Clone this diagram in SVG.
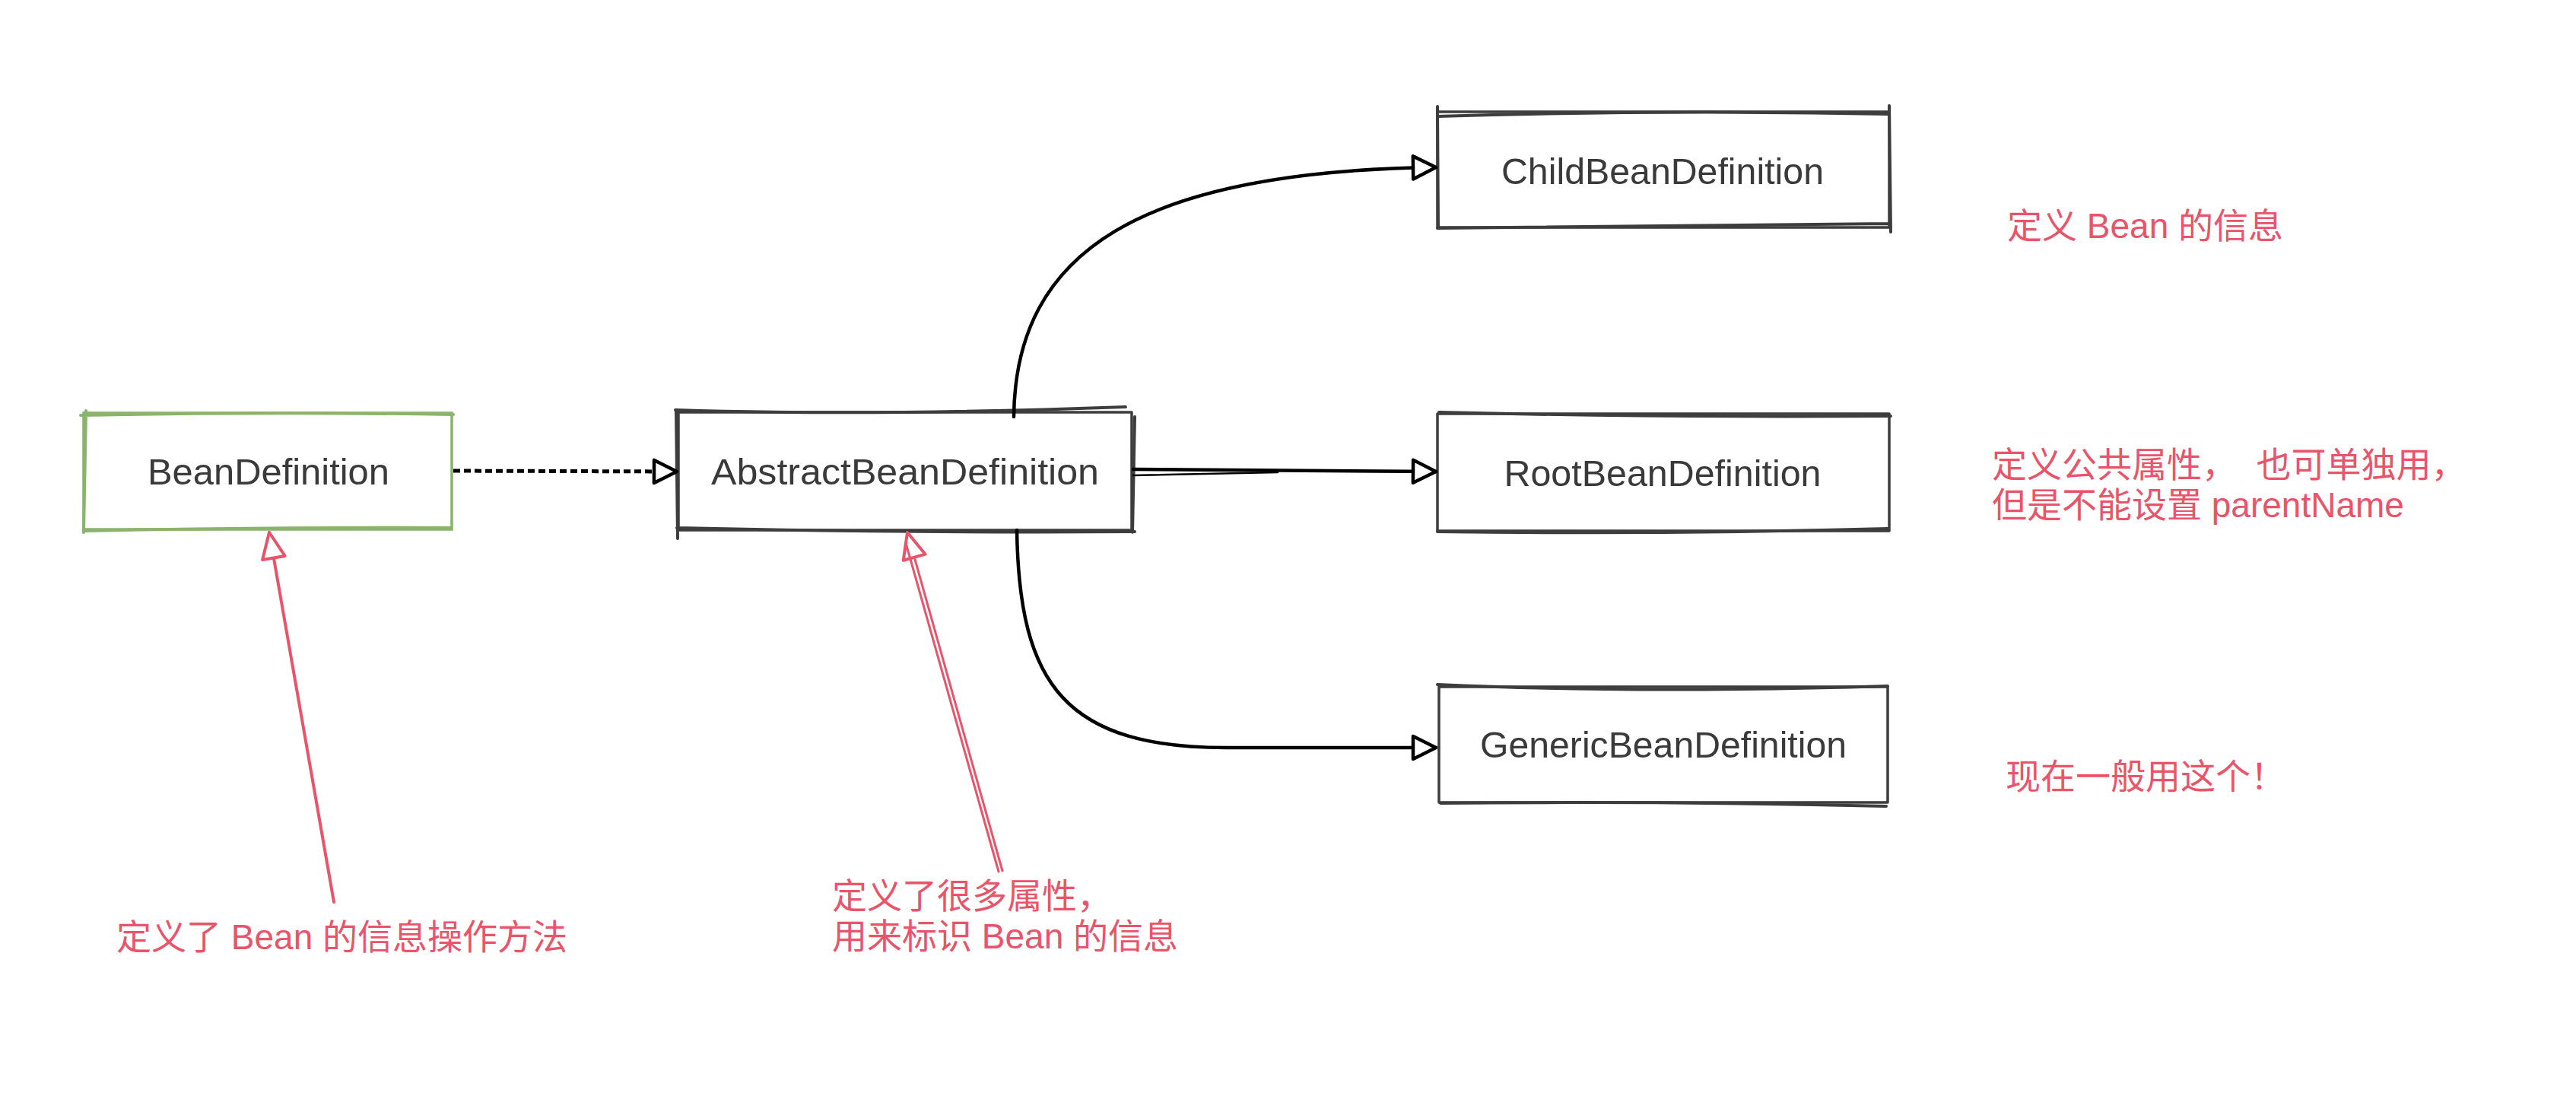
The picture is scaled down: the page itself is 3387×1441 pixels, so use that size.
<svg xmlns="http://www.w3.org/2000/svg" width="3387" height="1441" viewBox="0 0 3387 1441">
<style>
.bg{fill:#ffffff}
.box{fill:#ffffff;stroke:#3d3d3d;stroke-width:3.5;stroke-linejoin:round}
.sk{fill:none;stroke:#3d3d3d;stroke-width:4;stroke-linecap:round}
.gbox{fill:#ffffff;stroke:#8ab36c;stroke-width:3.5}
.gsk{fill:none;stroke:#8ab36c;stroke-width:4;stroke-linecap:round}
.lbl{font-family:"Liberation Sans","DejaVu Sans",sans-serif;font-size:48px;fill:#3a3a3a;text-anchor:middle}
.note{font-family:"Liberation Sans","Noto Sans CJK SC",sans-serif;font-size:46px;fill:#e9546b}
.conn{fill:none;stroke:#000000;stroke-width:4.5;stroke-linecap:round}
.dash{stroke-dasharray:9 5;stroke-linecap:butt;stroke-width:5}
.red{fill:none;stroke:#e9546b;stroke-width:4;stroke-linecap:round}
.red2{fill:none;stroke:#e9546b;stroke-width:3;stroke-linecap:round}
</style>
<defs>
<marker id="ahb" viewBox="-40 -22 46 44" refX="0" refY="0" markerWidth="46" markerHeight="44" markerUnits="userSpaceOnUse" orient="auto">
<path d="M0,0 L-30,-15 L-30,15 Z" fill="#ffffff" stroke="#000000" stroke-width="4.5" stroke-linejoin="round"/>
</marker>
<marker id="ahr" viewBox="-40 -22 46 44" refX="0" refY="0" markerWidth="46" markerHeight="44" markerUnits="userSpaceOnUse" orient="auto">
<path d="M0,0 L-34,-15 L-34,15 Z" fill="#ffffff" stroke="#e9546b" stroke-width="4" stroke-linejoin="round"/>
</marker>
</defs>
<rect class="bg" x="0" y="0" width="3387" height="1441"/>

<g id="node-BeanDefinition">
<rect class="gbox" x="110" y="543" width="484" height="153"/>
<path class="gsk" d="M106,546 Q350,541 596,545 M112,698 Q350,693 592,694 M113,540 L110,700"/>
<text class="lbl" x="353" y="637" textLength="318" lengthAdjust="spacingAndGlyphs">BeanDefinition</text>
</g>

<g id="node-AbstractBeanDefinition">
<rect class="box" x="892" y="542" width="596" height="155"/>
<path class="sk" d="M888,539 Q1150,547 1480,535 M890,694 Q1200,701 1492,699 M1492,548 L1489,700 M889,540 L891,708"/>
<text class="lbl" x="1190" y="637" textLength="510" lengthAdjust="spacingAndGlyphs">AbstractBeanDefinition</text>
</g>

<g id="node-ChildBeanDefinition">
<rect class="box" x="1890" y="147" width="594" height="152"/>
<path class="sk" d="M1890,153 Q2180,144 2484,150 M1890,300 Q2200,297 2484,294 M2484,139 L2486,305 M1890,140 L1891,300"/>
<text class="lbl" x="2186" y="242" textLength="424" lengthAdjust="spacingAndGlyphs">ChildBeanDefinition</text>
</g>

<g id="node-RootBeanDefinition">
<rect class="box" x="1890" y="544" width="594" height="154"/>
<path class="sk" d="M1892,542 Q2180,549 2486,547 M1890,699 Q2180,703 2482,695"/>
<text class="lbl" x="2186" y="639" textLength="417" lengthAdjust="spacingAndGlyphs">RootBeanDefinition</text>
</g>

<g id="node-GenericBeanDefinition">
<rect class="box" x="1892" y="903" width="590" height="152"/>
<path class="sk" d="M1890,900 Q2150,912 2482,902 M1894,1056 Q2180,1053 2480,1060"/>
<text class="lbl" x="2187" y="996" textLength="482" lengthAdjust="spacingAndGlyphs">GenericBeanDefinition</text>
</g>

<g id="connectors">
<path class="conn dash" d="M596,619 L890,620" marker-end="url(#ahb)"/>
<path class="conn" d="M1333,548 C1335,330 1500,225 1888,220" marker-end="url(#ahb)"/>
<path class="conn" d="M1490,617 L1888,620" marker-end="url(#ahb)"/>
<path class="conn" style="stroke-width:2.5" d="M1490,625 L1680,621"/>
<path class="conn" d="M1337,697 C1340,900 1400,985 1620,983 L1888,983" marker-end="url(#ahb)"/>
<path class="red" d="M439,1186 L354,700" marker-end="url(#ahr)"/>
<path class="red2" d="M1318,1145 L1193,700" marker-end="url(#ahr)"/>
<path class="red2" d="M1313,1146 L1191,714"/>
</g>

<g id="notes">
<text class="note" x="2639" y="313">定义 Bean 的信息</text>
<text class="note" x="2619" y="627" xml:space="preserve">定义公共属性，  也可单独用，</text>
<text class="note" x="2619" y="680">但是不能设置 parentName</text>
<text class="note" x="2637" y="1037">现在一般用这个！</text>
<text class="note" x="153" y="1248">定义了 Bean 的信息操作方法</text>
<text class="note" x="1094" y="1194">定义了很多属性，</text>
<text class="note" x="1094" y="1247">用来标识 Bean 的信息</text>
</g>
</svg>
